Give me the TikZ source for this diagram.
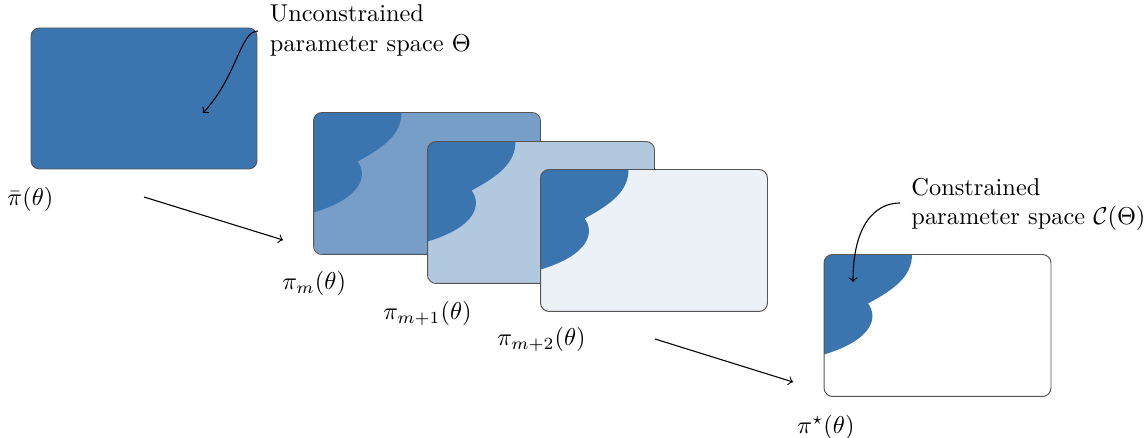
\documentclass[tikz,border=0pt]{standalone}
\usepackage{amssymb}
\definecolor{cdark}{RGB}{59,117,175}
\definecolor{cborder}{RGB}{85,85,85}
\tikzset{
  frame/.style={rectangle, rounded corners=3.5pt, inner sep=0pt,
    minimum width=92.66pt, minimum height=57.81pt},
  lbl/.style={inner sep=0pt, anchor=base west},
  note/.style={inner sep=0pt, anchor=north west, align=left},
  conn/.style={->, line width=0.45pt},
}
\newcommand{\myregion}[1]{%
  \begin{scope}
    \clip[rounded corners=3.5pt] (#1.north west) rectangle (#1.south east);
    \fill[cdark, shift={(#1.north west)}]
      (-2,-2) -- (88,-2) -- (88,0) .. controls (88,22) and (70,35) .. (44,49)
      .. controls (54,62) and (50,85) .. (0,100) -- (-2,100) -- cycle;
  \end{scope}
  \draw[cborder, line width=0.4pt, rounded corners=3.5pt] (#1.north west) rectangle (#1.south east);
}
\begin{document}
\begin{tikzpicture}[x=0.41pt, y=-0.41pt]
\useasboundingbox (0,0) rectangle (1148,438);

% unconstrained frame
\node[frame, fill=cdark, draw=cborder, line width=0.4pt] (b1) at (144,98.5) {};

% sequence of frames
\node[frame, fill=cdark!70!white] (b2) at (427,183.5) {};
\myregion{b2}
\node[frame, fill=cdark!40!white] (b3) at (541,212.5) {};
\myregion{b3}
\node[frame, fill=cdark!10!white] (b4) at (654,240.5) {};
\myregion{b4}
\node[frame, fill=white] (b5) at (937.5,325.5) {};
\myregion{b5}

% labels
\node[lbl] (l1) at (7,206) {$\bar\pi(\theta)$};
\node[lbl] (l2) at (282,290) {$\pi_m(\theta)$};
\node[lbl] (l3) at (383,319.5) {$\pi_{m+1}(\theta)$};
\node[lbl] (l4) at (497,346) {$\pi_{m+2}(\theta)$};
\node[lbl] (l5) at (797,433) {$\pi^\star(\theta)$};

\node[note] (n1) at (269.5,4.5) {Unconstrained\\parameter space $\Theta$};
\node[note] (n2) at (911,178) {Constrained\\parameter space $\mathcal{C}(\Theta)$};

% connectors
\coordinate (a1s) at (144,197);
\coordinate (a1e) at (283,240);
\coordinate (a2s) at (655,339);
\coordinate (a2e) at (793,382);
\draw[conn] (a1s) -- (a1e);
\draw[conn] (a2s) -- (a2e);

\coordinate (c1s) at (258,31);
\coordinate (c1e) at (203,113);
\coordinate (c2s) at (900,203);
\coordinate (c2e) at (853,282);
\draw[conn] (c1s) .. controls (240,31) and (238,75) .. (c1e);
\draw[conn] (c2s) .. controls (875,203) and (853,225) .. (c2e);
\end{tikzpicture}
\end{document}
